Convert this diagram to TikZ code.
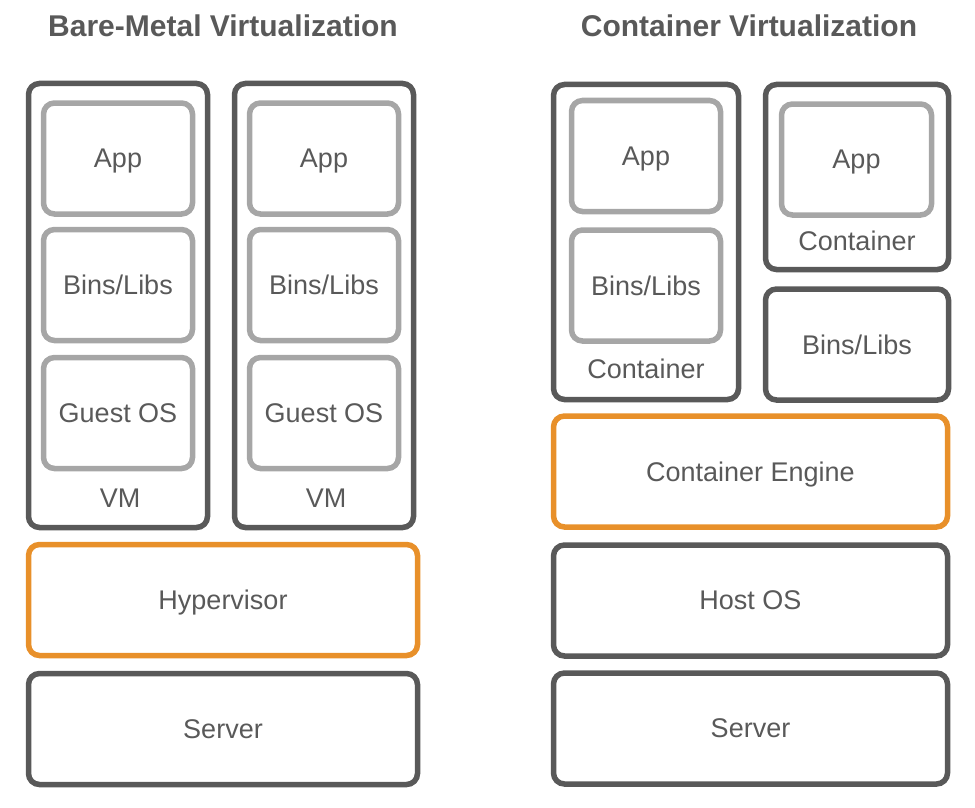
\documentclass[tikz,border=0pt]{standalone}
\usepackage{fontspec}
\setmainfont{Liberation Sans}
\usetikzlibrary{positioning}
\definecolor{darkgr}{HTML}{595959}
\definecolor{lightgr}{HTML}{A6A6A6}
\definecolor{engine}{HTML}{E8902A}
\begin{document}
\begin{tikzpicture}[x=1pt, y=-1pt,
	box/.style={rectangle, rounded corners=11pt, line width=5.5pt, inner sep=0pt, text depth=0pt, text=darkgr, font=\fontsize{27}{31}\selectfont},
	outer/.style={box, draw=darkgr},
	inner/.style={box, draw=lightgr, minimum width=149pt, minimum height=111pt},
	layer/.style={box, minimum height=111pt},
	lbl/.style={text=darkgr, inner sep=0pt, text depth=0pt, font=\fontsize{27}{31}\selectfont},
	title/.style={text=darkgr, inner sep=0pt, text depth=0pt, font=\fontsize{30}{34}\selectfont\bfseries}]
	\useasboundingbox (0,0) rectangle (975,808);
	\node[title] (tbm) at (223,26) {Bare-Metal Virtualization};
	\node[title] (tcv) at (749,26) {Container Virtualization};
	% bare metal
	\node[outer, minimum width=179pt, minimum height=444pt] (vma) at (118,305.5) {};
	\node[outer, minimum width=179pt, minimum height=444pt] (vmb) at (324,305.5) {};
	\node[inner] (appa) at (118,158.5) {App};
	\node[inner] (binsa) at (118,285) {Bins/Libs};
	\node[inner] (gosa) at (118,413) {Guest OS};
	\node[inner] (appb) at (324,158.5) {App};
	\node[inner] (binsb) at (324,285) {Bins/Libs};
	\node[inner] (gosb) at (324,413) {Guest OS};
	\node[lbl] (vmla) at (120,498) {VM};
	\node[lbl] (vmlb) at (326,498) {VM};
	\node[layer, draw=engine, minimum width=389pt] (hyp) at (223,600) {Hypervisor};
	\node[layer, draw=darkgr, minimum width=389pt] (srva) at (223,729) {Server};
	% containers
	\node[outer, minimum width=185pt, minimum height=315pt] (cta) at (646,242) {};
	\node[inner] (appc) at (646,156) {App};
	\node[inner] (binsc) at (646,285.5) {Bins/Libs};
	\node[lbl] (ctla) at (646,369) {Container};
	\node[outer, minimum width=183pt, minimum height=185pt] (ctb) at (857,177) {};
	\node[inner, minimum width=150pt] (appd) at (856.5,159.5) {App};
	\node[lbl] (ctlb) at (857,241) {Container};
	\node[layer, draw=darkgr, minimum width=183pt] (binsd) at (857,344.5) {Bins/Libs};
	\node[layer, draw=engine, minimum width=394pt] (eng) at (750.5,471.5) {Container Engine};
	\node[layer, draw=darkgr, minimum width=394pt] (host) at (750.5,600.5) {Host OS};
	\node[layer, draw=darkgr, minimum width=394pt] (srvb) at (750.5,728.5) {Server};
\end{tikzpicture}
\end{document}
